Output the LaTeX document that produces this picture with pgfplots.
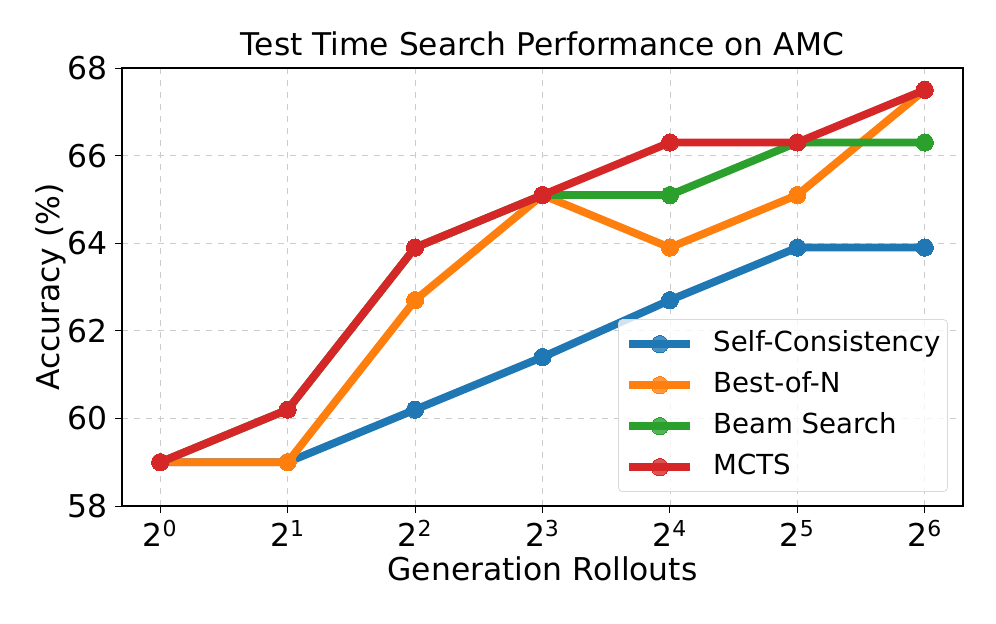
\documentclass[border=0pt]{standalone}
\usepackage{fontspec}
\setmainfont{DejaVu Sans}
\usepackage{pgfplots}
\pgfplotsset{compat=1.18}
\definecolor{cblue}{HTML}{1F77B4}
\definecolor{corange}{HTML}{FF7F0E}
\definecolor{cgreen}{HTML}{2CA02C}
\definecolor{cred}{HTML}{D62728}
\begin{document}
\begin{tikzpicture}
\useasboundingbox (-61pt,-58.5pt) rectangle (437pt,253pt);
\begin{axis}[
  at={(0,0)}, anchor=south west,
  scale only axis, width=420.5pt, height=219pt,
  xmin=-0.3, xmax=6.3, ymin=58, ymax=68,
  clip=false,
  xtick={0,1,2,3,4,5,6},
  xticklabels={2\textsuperscript{0},2\textsuperscript{1},2\textsuperscript{2},2\textsuperscript{3},2\textsuperscript{4},2\textsuperscript{5},2\textsuperscript{6}},
  ytick={58,60,62,64,66,68},
  /pgf/number format/assume math mode=true,
  tick label style={font=\fontsize{15.7pt}{18pt}\selectfont},
  xtick pos=bottom, ytick pos=left,
  tick align=outside, major tick length=3.5pt,
  tick style={black, line width=0.5pt},
  axis line style={line width=0.6pt},
  grid=major,
  major grid style={dashed, gray!40, line width=0.4pt},
  title={Test Time Search Performance on AMC},
  title style={font=\fontsize{15.65pt}{18pt}\selectfont, at={(axis description cs:0.5,1)}, anchor=south, inner sep=0pt, yshift=0pt},
  xlabel={Generation Rollouts},
  xlabel style={font=\fontsize{15.7pt}{18pt}\selectfont, at={(axis description cs:0.5,0)}, anchor=north, inner sep=0pt, yshift=-25pt},
  legend style={at={(0.982,0.032)}, anchor=south east, draw=black!15, rounded corners=2pt,
    fill=white, fill opacity=0.8, text opacity=1, inner xsep=3.5pt, inner ysep=5pt,
    row sep=6pt, font=\fontsize{13.8pt}{17pt}\selectfont,
    nodes={inner sep=0pt, text height=11pt, text depth=3.5pt, anchor=west},
    /tikz/every odd column/.append style={column sep=9.5pt}},
  legend cell align=left,
  legend image code/.code={\draw[mark repeat=2,mark phase=2] plot coordinates {(0pt,0pt) (15.25pt,0pt) (30.5pt,0pt)};},
  every axis plot/.append style={line width=3.9pt, mark=*, mark size=4.3pt, mark options={line width=0pt, draw=none}},
]
\addplot[color=cblue] coordinates {(0,59) (1,59) (2,60.2) (3,61.4) (4,62.7) (5,63.9) (6,63.9)};
\addlegendentry{Self-Consistency}
\addplot[color=corange] coordinates {(0,59) (1,59) (2,62.7) (3,65.1) (4,63.9) (5,65.1) (6,67.5)};
\addlegendentry{Best-of-N}
\addplot[color=cgreen] coordinates {(0,59) (1,60.2) (2,63.9) (3,65.1) (4,65.1) (5,66.3) (6,66.3)};
\addlegendentry{Beam Search}
\addplot[color=cred] coordinates {(0,59) (1,60.2) (2,63.9) (3,65.1) (4,66.3) (5,66.3) (6,67.5)};
\addlegendentry{MCTS}
\node[rotate=90, anchor=base, inner sep=0pt, font=\fontsize{15.7pt}{18pt}\selectfont] at ([xshift=-31pt]axis description cs:0,0.5) {Accuracy (\%)};
\end{axis}
\end{tikzpicture}
\end{document}
